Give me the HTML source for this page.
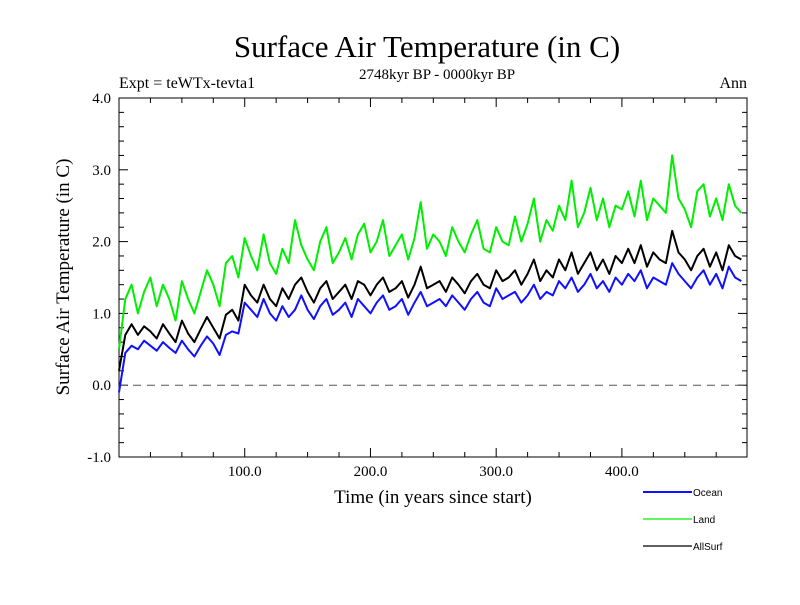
<!DOCTYPE html>
<html><head><meta charset="utf-8"><style>
body{margin:0;background:#fff}
svg text{font-family:"Liberation Serif",serif}
</style></head><body>
<svg id="c" width="800" height="600" xmlns="http://www.w3.org/2000/svg">
<text x="427" y="57" font-size="31" text-anchor="middle">Surface Air Temperature (in C)</text>
<text x="437" y="79" font-size="15" text-anchor="middle">2748kyr BP - 0000kyr BP</text>
<text x="119" y="88" font-size="16">Expt = teWTx-tevta1</text>
<text x="747" y="88" font-size="16" text-anchor="end">Ann</text>
<text x="433" y="503" font-size="19" text-anchor="middle">Time (in years since start)</text>
<text x="0" y="0" font-size="19" text-anchor="middle" transform="translate(69,277) rotate(-90)">Surface Air Temperature (in C)</text>
<g id="axes"></g><g id="series"></g>
<g>
<line x1="643" y1="492" x2="692" y2="492" stroke="#1010ff" stroke-width="2"/>
<text x="693" y="496" font-size="10" style="font-family:'Liberation Sans',sans-serif">Ocean</text>
<line x1="643" y1="519" x2="692" y2="519" stroke="#00ee00" stroke-width="1.2"/>
<text x="693" y="523" font-size="10" style="font-family:'Liberation Sans',sans-serif">Land</text>
<line x1="643" y1="546" x2="692" y2="546" stroke="#000" stroke-width="1.2"/>
<text x="693" y="550" font-size="10" style="font-family:'Liberation Sans',sans-serif">AllSurf</text>
</g>
</svg>
<script>
const years=[];for(let i=0;i<100;i++)years.push(i*5);
const ocean=[-0.1,0.45,0.55,0.5,0.62,0.55,0.48,0.6,0.52,0.45,0.62,0.5,0.4,0.55,0.68,0.58,0.42,0.7,0.75,0.72,
1.15,1.05,0.95,1.2,1.0,0.9,1.1,0.95,1.05,1.25,1.05,0.92,1.1,1.2,0.98,1.05,1.15,0.95,1.2,1.1,
1.0,1.15,1.25,1.05,1.1,1.2,0.98,1.15,1.3,1.1,1.15,1.2,1.1,1.25,1.15,1.05,1.2,1.3,1.15,1.1,
1.35,1.2,1.25,1.3,1.15,1.25,1.4,1.2,1.3,1.25,1.45,1.35,1.5,1.3,1.4,1.55,1.35,1.45,1.3,1.5,
1.4,1.55,1.45,1.6,1.35,1.5,1.45,1.4,1.7,1.55,1.45,1.35,1.5,1.6,1.4,1.55,1.35,1.65,1.5,1.45];
const land=[0.5,1.2,1.4,1.0,1.3,1.5,1.1,1.4,1.2,0.9,1.45,1.2,1.0,1.3,1.6,1.4,1.1,1.7,1.8,1.5,
2.05,1.8,1.6,2.1,1.7,1.55,1.9,1.7,2.3,1.95,1.75,1.6,2.0,2.2,1.7,1.85,2.05,1.75,2.1,2.25,
1.85,2.0,2.3,1.8,1.95,2.1,1.75,2.05,2.55,1.9,2.1,2.0,1.8,2.2,2.0,1.85,2.1,2.3,1.9,1.85,
2.2,2.0,1.95,2.35,2.0,2.25,2.6,2.0,2.3,2.15,2.5,2.3,2.85,2.2,2.4,2.75,2.3,2.6,2.2,2.5,
2.45,2.7,2.35,2.85,2.3,2.6,2.5,2.4,3.2,2.6,2.45,2.2,2.7,2.8,2.35,2.6,2.3,2.8,2.5,2.4];
const allsurf=[0.2,0.7,0.85,0.7,0.82,0.75,0.65,0.85,0.72,0.6,0.9,0.72,0.6,0.78,0.95,0.8,0.65,0.98,1.05,0.9,
1.4,1.25,1.15,1.4,1.2,1.1,1.35,1.2,1.4,1.5,1.3,1.15,1.35,1.45,1.2,1.3,1.4,1.2,1.45,1.4,
1.25,1.4,1.5,1.3,1.35,1.45,1.22,1.4,1.65,1.35,1.4,1.45,1.3,1.5,1.4,1.28,1.45,1.55,1.4,1.35,
1.6,1.45,1.5,1.6,1.4,1.55,1.75,1.45,1.6,1.5,1.75,1.6,1.85,1.55,1.7,1.85,1.6,1.75,1.55,1.8,
1.7,1.9,1.7,1.95,1.65,1.85,1.75,1.7,2.15,1.85,1.75,1.6,1.8,1.9,1.65,1.85,1.6,1.95,1.8,1.75];
const yTicks=[-1,0,1,2,3,4];
const yTickLabels=["-1.0","0.0","1.0","2.0","3.0","4.0"];
const xTicks=[100,200,300,400];
const xTickLabels=["100.0","200.0","300.0","400.0"];
const L=119,R=747,T=98,B=457,X0=0,X1=499.5,Y0=-1,Y1=4;
const xs=v=>L+(v-X0)/(X1-X0)*(R-L);
const ys=v=>B-(v-Y0)/(Y1-Y0)*(B-T);
const NS="http://www.w3.org/2000/svg";
function mk(t,a,p){const e=document.createElementNS(NS,t);for(const k in a)e.setAttribute(k,a[k]);p.appendChild(e);return e;}
const ax=document.getElementById('axes');
let e=mk('rect',{x:L,y:T,width:R-L,height:B-T,fill:'none',stroke:'#000','stroke-width':1},ax);


for(let v=25;v<X1;v+=25){const maj=v%100===0;const len=maj?9:5;
mk('line',{x1:xs(v),x2:xs(v),y1:B,y2:B-len,stroke:'#000'},ax);
mk('line',{x1:xs(v),x2:xs(v),y1:T,y2:T+len,stroke:'#000'},ax);}
for(let v=-0.8;v<4;v+=0.2){const maj=Math.abs(v-Math.round(v))<0.01;const len=maj?9:5;
mk('line',{x1:L,x2:L+len,y1:ys(v),y2:ys(v),stroke:'#000'},ax);
mk('line',{x1:R,x2:R-len,y1:ys(v),y2:ys(v),stroke:'#000'},ax);}
yTicks.forEach((v,i)=>{const t=mk('text',{x:111,y:ys(v)+5,'font-size':15,'text-anchor':'end'},ax);t.textContent=yTickLabels[i];

});
xTicks.forEach((v,i)=>{const t=mk('text',{x:xs(v),y:B+19,'font-size':15,'text-anchor':'middle'},ax);t.textContent=xTickLabels[i];

});
e=mk('line',{x1:L,x2:R,y1:ys(0),y2:ys(0),stroke:'#555','stroke-dasharray':'8,6'},ax);


const sg=document.getElementById('series');
function line(d,c,w,n){const p=d.map((v,i)=>xs(years[i]).toFixed(1)+','+ys(v).toFixed(1)).join(' ');
const el=mk('polyline',{points:p,fill:'none',stroke:c,'stroke-width':w,'stroke-linejoin':'round'},sg);

}
line(land,'#00ee00',2,'land-series');
line(ocean,'#1010ff',2,'ocean-series');
line(allsurf,'#000',2,'allsurf-series');
</script>
</body></html>
